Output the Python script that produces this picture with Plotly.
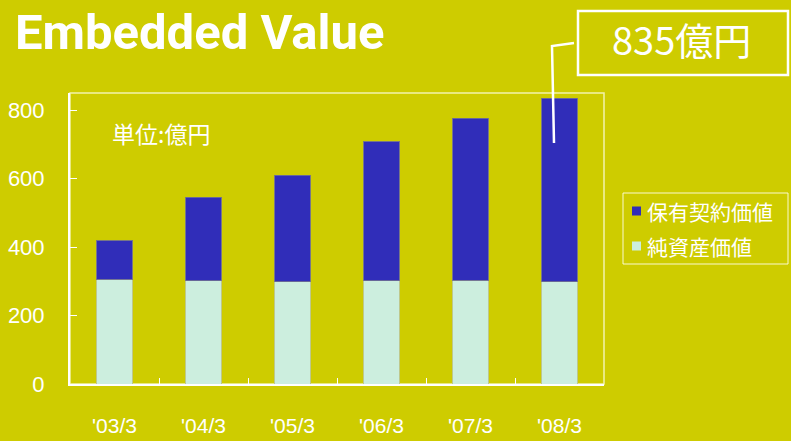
import plotly.graph_objects as go

# ---- data ----
categories = ["'03/3", "'04/3", "'05/3", "'06/3", "'07/3", "'08/3"]
net_assets = [306, 301, 299, 301, 303, 299]          # 純資産価値
inforce_value = [112, 244, 311, 406, 473, 536]       # 保有契約価値
series_names = ["保有契約価値", "純資産価値"]
y_ticks = [0, 200, 400, 600, 800]
title_text = "Embedded Value"
unit_text = "単位:億円"
callout_text = "835億円"

BG = "rgb(206,204,0)"
BLUE = "rgb(48,45,185)"
MINT = "rgb(204,238,222)"
WHITE = "white"
JP = "Noto Sans CJK JP"

fig = go.Figure()
fig.add_trace(go.Bar(x=categories, y=net_assets, name=series_names[1],
                     marker=dict(color=MINT, line=dict(color="rgba(190,200,140,1)", width=1)),
                     width=0.40, showlegend=False))
fig.add_trace(go.Bar(x=categories, y=inforce_value, name=series_names[0],
                     marker=dict(color=BLUE, line=dict(color="rgba(110,110,150,0.9)", width=1)),
                     width=0.40, showlegend=False))

L, R, T, B = 70, 187, 93, 57
W, H = 791, 441
pw, ph = W - L - R, H - T - B

def px(x):
    return (x - L) / pw

def py(y):
    return (H - B - y) / ph

fig.update_layout(
    barmode="stack",
    width=W, height=H,
    margin=dict(l=L, r=R, t=T, b=B),
    paper_bgcolor=BG, plot_bgcolor=BG,
    bargap=0.6,
    font=dict(family="Liberation Sans, Arial, sans-serif", color=WHITE),
)
fig.update_xaxes(
    showline=True, linecolor=WHITE, linewidth=2,
    ticks="inside", tickson="boundaries", ticklen=6, tickcolor=WHITE, tickwidth=1,
    tickfont=dict(size=21, color=WHITE, family="Liberation Sans, Arial, sans-serif"),
    ticklabelstandoff=22, showgrid=False, zeroline=False, automargin=False,
)
fig.update_yaxes(
    range=[0, 850], tickvals=y_ticks,
    showline=True, linecolor=WHITE, linewidth=2,
    ticks="inside", ticklen=7, tickcolor=WHITE, tickwidth=1,
    tickfont=dict(size=22, color=WHITE), ticklabelstandoff=19,
    showgrid=False, zeroline=False, automargin=False,
)

shapes = []
# plot border (top/right pale)
shapes.append(dict(type="rect", xref="paper", yref="paper", x0=0, x1=1, y0=0, y1=1,
                   line=dict(color="rgba(255,255,230,0.75)", width=1.5), layer="below"))
# callout box
shapes.append(dict(type="rect", xref="paper", yref="paper",
                   x0=px(578), x1=px(788), y0=py(75), y1=py(11),
                   line=dict(color=WHITE, width=2.5)))
# callout leader line
shapes.append(dict(type="path", xref="paper", yref="paper",
                   path=f"M {px(574)} {py(43)} L {px(552)} {py(46)} L {px(554)} {py(143)}",
                   line=dict(color=WHITE, width=2.5)))
# legend box
shapes.append(dict(type="rect", xref="paper", yref="paper",
                   x0=px(623), x1=px(788), y0=py(264), y1=py(193),
                   line=dict(color="rgba(255,255,230,0.9)", width=1)))
legend_colors = [BLUE, MINT]
legend_y = [211, 246]
annotations = []
for name, col, yy in zip(series_names, legend_colors, legend_y):
    shapes.append(dict(type="rect", xref="paper", yref="paper",
                       x0=px(632), x1=px(641), y0=py(yy + 4.5), y1=py(yy - 4.5),
                       line=dict(width=0), fillcolor=col))
    annotations.append(dict(text=name, xref="paper", yref="paper", x=px(645), y=py(yy),
                            xanchor="left", yanchor="middle", showarrow=False,
                            font=dict(family=JP, size=21, color=WHITE)))

annotations.append(dict(text=title_text, xref="paper", yref="paper", x=px(13), y=py(32),
                        xanchor="left", yanchor="middle", showarrow=False,
                        font=dict(family="Roboto, Liberation Sans, sans-serif",
                                  size=49, color=WHITE, weight="bold")))
annotations.append(dict(text=unit_text, xref="paper", yref="paper", x=px(110), y=py(133),
                        xanchor="left", yanchor="middle", showarrow=False,
                        font=dict(family=JP, size=23, color=WHITE)))
annotations.append(dict(text=callout_text, xref="paper", yref="paper", x=px(681), y=py(38),
                        xanchor="center", yanchor="middle", showarrow=False,
                        font=dict(family=JP, size=38, color=WHITE)))

fig.update_layout(shapes=shapes, annotations=annotations)
fig.write_html("out.html", config={"displayModeBar": False},
               post_script="document.body.style.margin='0';document.body.style.padding='0';")
